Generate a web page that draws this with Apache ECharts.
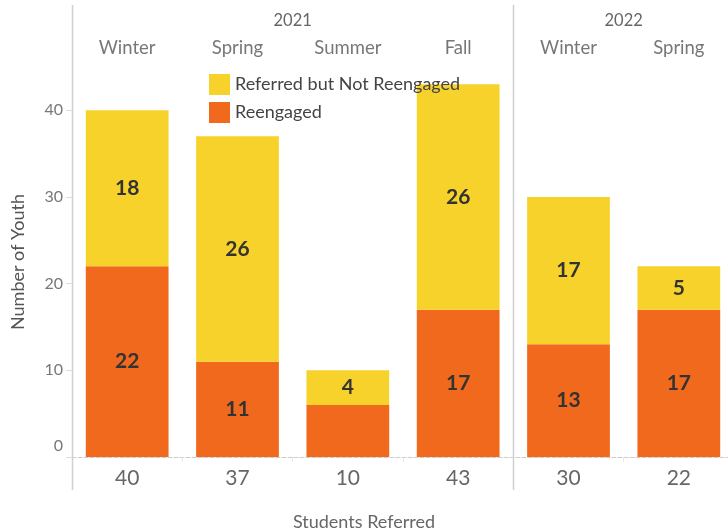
<!DOCTYPE html>
<html>
<head>
<meta charset="utf-8">
<script src="https://cdn.jsdelivr.net/npm/echarts@6/dist/echarts.min.js"></script>
<style>
  html, body { margin: 0; padding: 0; background: #fff; }
  #chart { width: 728px; height: 531px; }
</style>
</head>
<body>
<div id="chart"></div>
<script>
const seasons = ['Winter', 'Spring', 'Summer', 'Fall', 'Winter', 'Spring']
const years = ['2021', '2022']
const yearSpans = [4, 2] // how many seasons each year covers
const reengaged = [22, 11, 6, 17, 13, 17]
const notReengaged = [18, 26, 4, 26, 17, 5]
const yTicks = [0, 10, 20, 30, 40]

const totals = reengaged.map((v, i) => String(v + notReengaged[i]))

// year label sits in the middle of its span, group boundaries get a line
const yearMid = {}
const yearEdges = [0]
let acc = 0
years.forEach((y, i) => {
  yearMid[acc + yearSpans[i] / 2] = y
  acc += yearSpans[i]
  yearEdges.push(acc)
})

const font = 'Lato'
const barLabel = { show: true, position: 'inside', fontSize: 21, fontWeight: 'bold', color: '#333', fontFamily: font }
const chart = echarts.init(document.getElementById('chart'))

chart.setOption({
  animation: false,
  textStyle: { fontFamily: font },
  title: {
    text: 'Students Referred',
    left: 'center',
    top: 508,
    textStyle: { fontSize: 18, fontWeight: 'normal', color: '#666', fontFamily: font }
  },
  legend: {
    orient: 'vertical',
    left: 204,
    top: 69,
    itemWidth: 21,
    itemHeight: 21,
    itemGap: 7,
    icon: 'rect',
    data: ['Referred but Not Reengaged', 'Reengaged'],
    textStyle: { fontSize: 18, color: '#444', fontFamily: font }
  },
  grid: { left: 72, right: -6, top: 67, bottom: 74, outerBoundsMode: 'none' },
  xAxis: [{
    type: 'category',
    position: 'bottom',
    data: totals,
    axisLine: { lineStyle: { color: '#ccc', type: 'dashed', width: 1 } },
    axisTick: { show: true, length: 5, lineStyle: { color: '#e8e8e8' } },
    axisLabel: { fontSize: 21, color: '#666', margin: 11 }
  }, {
    type: 'category',
    position: 'top',
    data: seasons,
    axisLine: { show: false },
    axisTick: { show: false },
    axisLabel: { fontSize: 18.5, color: '#777', margin: 9 }
  }, {
    type: 'value',
    position: 'top',
    offset: 28,
    min: 0,
    max: acc,
    interval: 1,
    axisLine: { show: false },
    axisTick: { show: false },
    splitLine: { show: false },
    axisLabel: {
      fontSize: 16.5,
      color: '#666',
      margin: 10,
      formatter: v => yearMid[v] || ''
    }
  }],
  yAxis: {
    type: 'value',
    min: 0,
    max: 45,
    name: 'Number of Youth',
    nameLocation: 'middle',
    nameGap: 45,
    nameTextStyle: { fontSize: 18, color: '#555', fontFamily: font },
    axisLine: { show: false },
    axisTick: { show: true, length: 6, customValues: yTicks, lineStyle: { color: '#ddd' } },
    splitLine: { show: false },
    axisLabel: {
      customValues: yTicks,
      fontSize: 16,
      color: '#777',
      margin: 9,
      formatter: v => v === 0 ? '{z|0}' : String(v),
      rich: { z: { fontSize: 16, color: '#777', fontFamily: font, padding: [0, 0, 22, 0] } }
    }
  },
  series: [{
    name: 'Reengaged',
    type: 'bar',
    stack: 'youth',
    barCategoryGap: '25%',
    // the reference leaves the Summer segment unlabelled
    data: reengaged.map((v, i) => i === 2 ? { value: v, label: { show: false } } : v),
    itemStyle: { color: '#f0691d' },
    label: barLabel
  }, {
    name: 'Referred but Not Reengaged',
    type: 'bar',
    stack: 'youth',
    barCategoryGap: '25%',
    data: notReengaged,
    itemStyle: { color: '#f6d22b' },
    label: barLabel
  }]
})

// vertical separators at the start of each year group
const lines = yearEdges.slice(0, -1).map(e => {
  const x = Math.round(chart.convertToPixel({ xAxisIndex: 2 }, e)) + 0.5
  return {
    type: 'line',
    shape: { x1: x, y1: 5, x2: x, y2: 490 },
    style: { stroke: '#d0d0d0', lineWidth: 1.5 },
    z: 10
  }
})
chart.setOption({ graphic: lines })
</script>
</body>
</html>
